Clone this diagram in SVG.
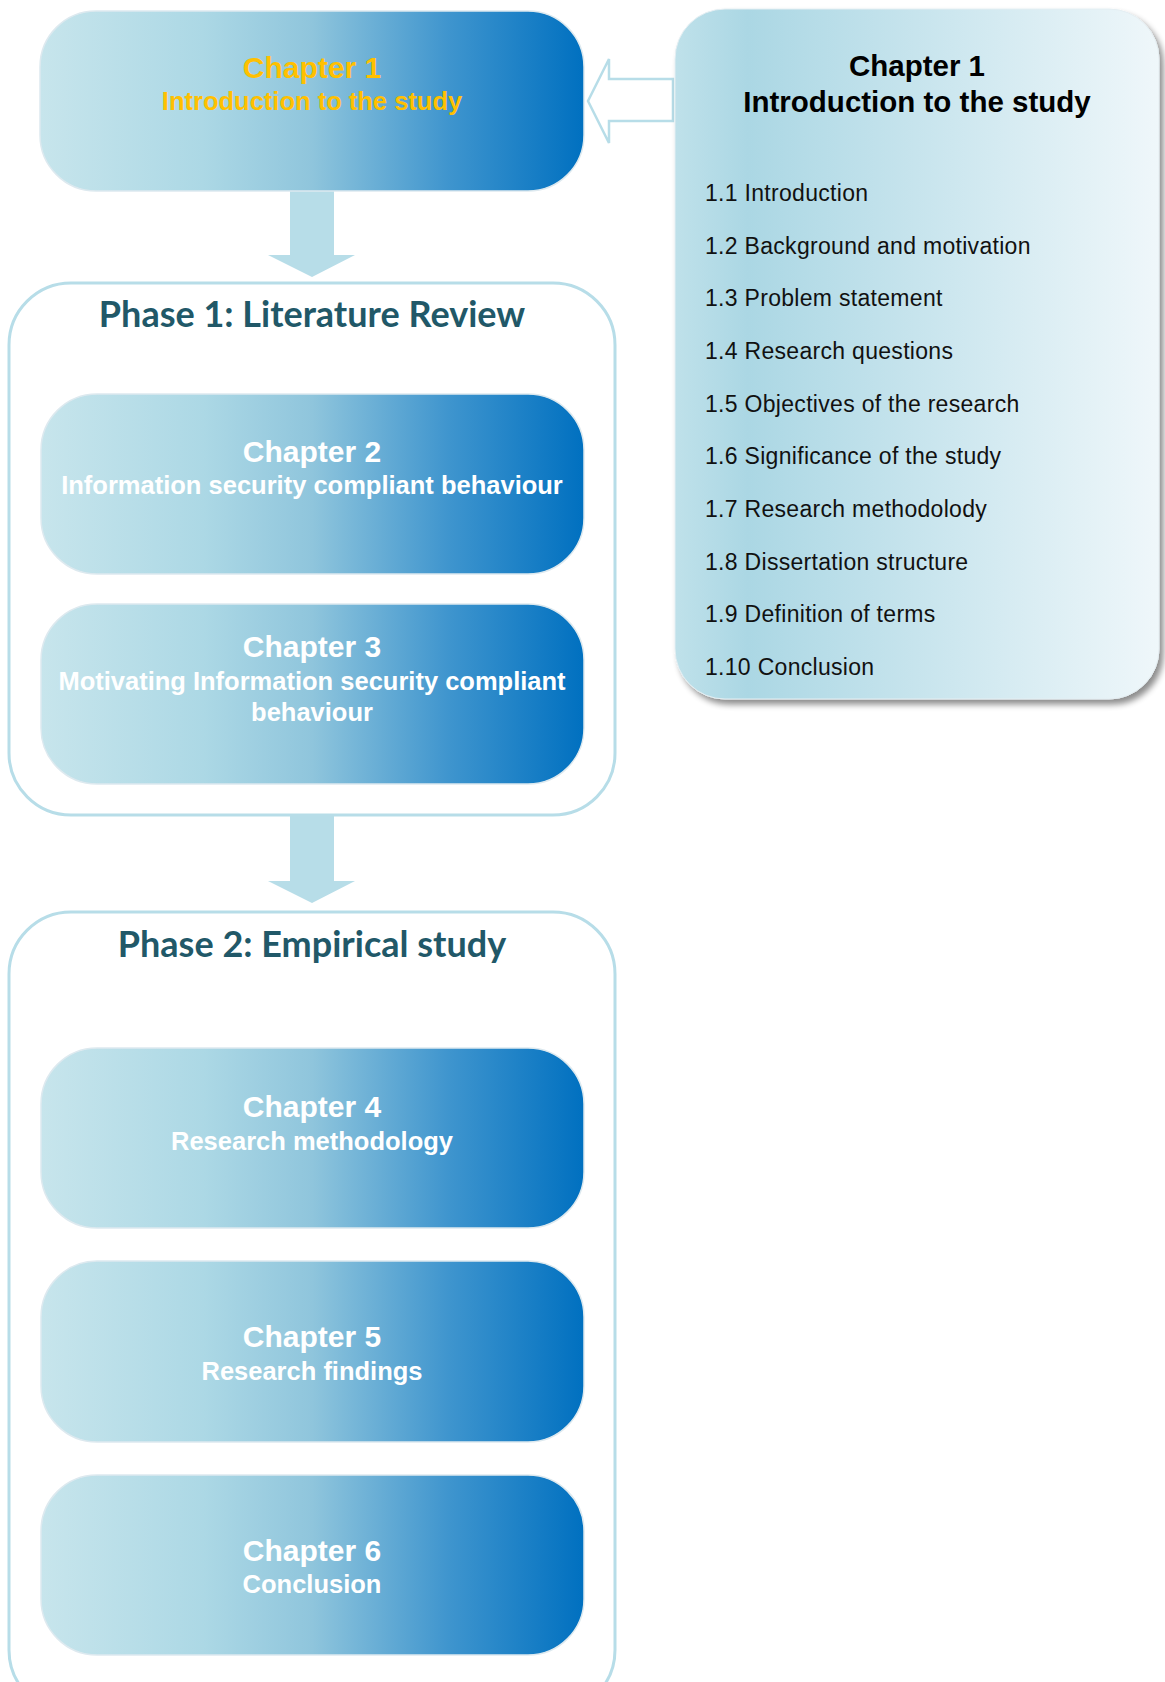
<svg xmlns="http://www.w3.org/2000/svg" width="1165" height="1682" viewBox="0 0 1165 1682">
<defs>
<linearGradient id="chg" x1="0" y1="0" x2="1" y2="0">
<stop offset="0" stop-color="#c7e5ec"/>
<stop offset="0.3" stop-color="#acd8e5"/>
<stop offset="0.5" stop-color="#8fc5dc"/>
<stop offset="0.75" stop-color="#3f95ce"/>
<stop offset="1" stop-color="#0070c0"/>
</linearGradient>
<linearGradient id="pg" x1="0" y1="0" x2="1" y2="0">
<stop offset="0" stop-color="#bfe1ea"/>
<stop offset="0.15" stop-color="#abd7e4"/>
<stop offset="1" stop-color="#eff7fa"/>
</linearGradient>
<filter id="sh" x="-5%" y="-5%" width="115%" height="115%">
<feGaussianBlur in="SourceAlpha" stdDeviation="3"/>
<feOffset dx="4" dy="5" result="b"/>
<feComponentTransfer><feFuncA type="linear" slope="0.45"/></feComponentTransfer>
<feMerge><feMergeNode/><feMergeNode in="SourceGraphic"/></feMerge>
</filter>
</defs>
<style>
.ch{fill:url(#chg);stroke:#dde9ef;stroke-width:1.5}
.ct{font-family:"Liberation Sans",Arial,sans-serif;font-weight:bold;fill:#ffffff;text-anchor:middle}
.t1{font-size:30px}
.t2{font-size:25.5px}
.y{fill:#ffc000}
.ph{fill:#ffffff;stroke:#b7dde8;stroke-width:3}
.pt{font-family:Lato,"Open Sans",sans-serif;font-weight:bold;font-size:36px;fill:#215868;text-anchor:middle}
.li{font-family:"Liberation Sans",Arial,sans-serif;font-size:23px;fill:#111111;letter-spacing:0.3px}
.arr{fill:#b7dde8}
</style>
<rect width="1165" height="1682" fill="#ffffff"/>

<g id="phase1">
<rect class="ph" x="9" y="283" width="606" height="532" rx="62"/>
<text class="pt" x="312" y="327">Phase 1: Literature Review</text>
</g>
<g id="phase2">
<rect class="ph" x="9" y="912" width="606" height="800" rx="62"/>
<text class="pt" x="312" y="957">Phase 2: Empirical study</text>
</g>

<g id="connectors">
<polygon class="arr" points="290,191 334,191 334,255 355,255 312,277 268,255 290,255"/>
<polygon class="arr" points="290,815 334,815 334,881 355,881 312,903 268,881 290,881"/>
<polygon points="673,79 609,79 609,59 588,101 609,143 609,121 673,121" fill="#ffffff" stroke="#b7dde8" stroke-width="2.5"/>
</g>

<g id="ch1">
<rect class="ch" x="40" y="11" width="544" height="180" rx="56"/>
<text class="ct t1 y" x="312" y="78">Chapter 1</text>
<text class="ct t2 y" x="312" y="110">Introduction to the study</text>
</g>
<g id="ch2">
<rect class="ch" x="41" y="394" width="543" height="180" rx="56"/>
<text class="ct t1" x="312" y="462">Chapter 2</text>
<text class="ct t2" x="312" y="494">Information security compliant behaviour</text>
</g>
<g id="ch3">
<rect class="ch" x="41" y="604" width="543" height="180" rx="56"/>
<text class="ct t1" x="312" y="657">Chapter 3</text>
<text class="ct t2" x="312" y="690">Motivating Information security compliant</text>
<text class="ct t2" x="312" y="721">behaviour</text>
</g>
<g id="ch4">
<rect class="ch" x="41" y="1048" width="543" height="180" rx="56"/>
<text class="ct t1" x="312" y="1117">Chapter 4</text>
<text class="ct t2" x="312" y="1150">Research methodology</text>
</g>
<g id="ch5">
<rect class="ch" x="41" y="1261" width="543" height="181" rx="56"/>
<text class="ct t1" x="312" y="1347">Chapter 5</text>
<text class="ct t2" x="312" y="1380">Research findings</text>
</g>
<g id="ch6">
<rect class="ch" x="41" y="1475" width="543" height="180" rx="56"/>
<text class="ct t1" x="312" y="1561">Chapter 6</text>
<text class="ct t2" x="312" y="1593">Conclusion</text>
</g>

<g id="detail">
<rect x="675" y="9" width="484" height="690" rx="50" fill="url(#pg)" stroke="#e4eef2" stroke-width="1" filter="url(#sh)"/>
<text x="917" y="76" font-family="Liberation Sans, Arial, sans-serif" font-weight="bold" font-size="29.5" fill="#000000" text-anchor="middle">Chapter 1</text>
<text x="917" y="112" font-family="Liberation Sans, Arial, sans-serif" font-weight="bold" font-size="29.5" fill="#000000" text-anchor="middle">Introduction to the study</text>
<text class="li" x="705" y="201">1.1 Introduction</text>
<text class="li" x="705" y="254">1.2 Background and motivation</text>
<text class="li" x="705" y="306">1.3 Problem statement</text>
<text class="li" x="705" y="359">1.4 Research questions</text>
<text class="li" x="705" y="412">1.5 Objectives of the research</text>
<text class="li" x="705" y="464">1.6 Significance of the study</text>
<text class="li" x="705" y="517">1.7 Research methodolody</text>
<text class="li" x="705" y="570">1.8 Dissertation structure</text>
<text class="li" x="705" y="622">1.9 Definition of terms</text>
<text class="li" x="705" y="675">1.10 Conclusion</text>
</g>
</svg>
